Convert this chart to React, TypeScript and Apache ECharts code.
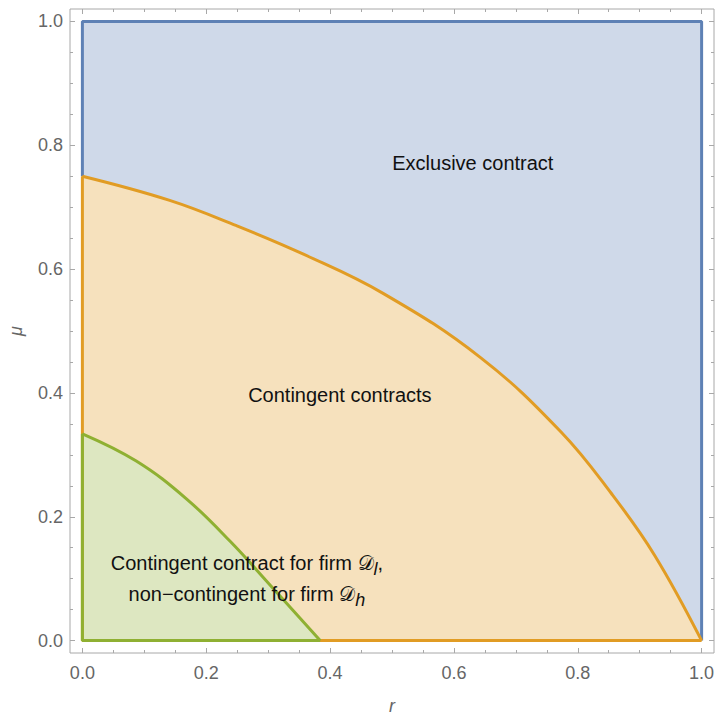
import React, { useEffect, useRef } from "react";
import * as echarts from "echarts";

// ---- data ----
const xMajorTicks = [0, 0.2, 0.4, 0.6, 0.8, 1.0];
const xMinorTicks = [0.05, 0.1, 0.15, 0.25, 0.3, 0.35, 0.45, 0.5, 0.55, 0.65, 0.7, 0.75, 0.85, 0.9, 0.95];
const yMajorTicks = [0, 0.2, 0.4, 0.6, 0.8, 1.0];
const yMinorTicks = [0.05, 0.1, 0.15, 0.25, 0.3, 0.35, 0.45, 0.5, 0.55, 0.65, 0.7, 0.75, 0.85, 0.9, 0.95];

// Exclusive contract region (whole unit square) and its visible boundary
const exclusiveTopR = [0, 1];
const exclusiveTopMu = [1, 1];
const exclusiveEdgeR = [0, 0, 1, 1];
const exclusiveEdgeMu = [0.75, 1, 1, 0];

// Contingent contracts region: upper boundary curve
const contingentR = [0, 0.141, 0.249, 0.357, 0.487, 0.643, 0.773, 0.854, 0.924, 1];
const contingentMu = [0.75, 0.711, 0.67, 0.624, 0.56, 0.457, 0.337, 0.238, 0.138, 0];
const contingentEdgeR = [0, 0, 1];
const contingentEdgeMu = [0.75, 0, 0];

// Mixed region: upper boundary curve
const mixedR = [0, 0.087, 0.168, 0.239, 0.303, 0.384];
const mixedMu = [0.334, 0.29, 0.229, 0.16, 0.09, 0];
const mixedEdgeR = [0, 0, 0.384];
const mixedEdgeMu = [0.334, 0, 0];

// Region labels
const labelR = [0.6305, 0.4158, 0.2657];
const labelMu = [0.7706, 0.397, 0.101];
const labelTexts = [
  "{t|Exclusive contract}",
  "{t|Contingent contracts}",
  "{t|Contingent contract for firm }{d|𝒟}{s|l}{t|,}\n{t|non−contingent for firm }{d|𝒟}{s|h}",
];

const zip = (a: number[], b: number[]) => a.map((v, i) => [v, b[i]]);

const FONT = "Liberation Sans";
const FRAME = "#a8a8a8";
const TICKLABEL = "#666666";

const BLUE = "#5E81B5";
const ORANGE = "#E19C24";
const GREEN = "#8FB032";
const BLUE_FILL = "#CFD9E9";
const ORANGE_FILL = "#F6E1BD";
const GREEN_FILL = "#DDE7C1";

const RICH: any = {
  t: { fontFamily: FONT, fontSize: 20, color: "#111111", lineHeight: 31 },
  d: { fontFamily: "DejaVu Sans", fontSize: 20, color: "#111111", lineHeight: 31 },
  s: {
    fontFamily: FONT,
    fontSize: 18,
    fontStyle: "italic",
    color: "#111111",
    lineHeight: 28,
    verticalAlign: "bottom",
  },
};

function makeAxis(
  position: string,
  values: number[],
  len: number,
  showLabel: boolean,
  isX: boolean,
  name?: string
): any {
  return {
    type: "value",
    min: -0.02,
    max: 1.02,
    position,
    name: name || "",
    nameLocation: "middle",
    nameGap: isX ? 44 : 45,
    nameMoveOverlap: false,
    nameTextStyle: {
      fontFamily: FONT,
      fontStyle: "italic",
      fontSize: 18,
      color: TICKLABEL,
    },
    axisLine: { show: false, onZero: false },
    splitLine: { show: false },
    axisTick: {
      show: true,
      inside: true,
      length: len,
      customValues: values,
      lineStyle: { color: FRAME, width: 1 },
    },
    axisLabel: {
      show: showLabel,
      customValues: values,
      formatter: (v: number) => v.toFixed(1),
      fontFamily: FONT,
      fontSize: 18,
      color: TICKLABEL,
      margin: isX ? 11 : 7,
    },
  };
}

export default function App() {
  const ref = useRef<HTMLDivElement>(null);

  useEffect(() => {
    if (!ref.current) return;
    const chart = echarts.init(ref.current, undefined, { renderer: "svg" });

    const lineBase = { type: "line", symbol: "none", silent: true };

    const option: any = {
      animation: false,
      backgroundColor: "#ffffff",
      grid: {
        left: 70,
        right: 3,
        top: 9,
        bottom: 62,
        show: true,
        borderColor: FRAME,
        borderWidth: 1,
        backgroundColor: "transparent",
        containLabel: false,
        outerBoundsMode: "none",
      },
      xAxis: [
        makeAxis("bottom", xMajorTicks, 5, true, true, "r"),
        makeAxis("bottom", xMinorTicks, 3, false, true),
        makeAxis("top", xMajorTicks, 5, false, true),
        makeAxis("top", xMinorTicks, 3, false, true),
      ],
      yAxis: [
        makeAxis("left", yMajorTicks, 5, true, false, "μ"),
        makeAxis("left", yMinorTicks, 3, false, false),
        makeAxis("right", yMajorTicks, 5, false, false),
        makeAxis("right", yMinorTicks, 3, false, false),
      ],
      series: [
        {
          ...lineBase,
          name: "exclusiveFill",
          data: zip(exclusiveTopR, exclusiveTopMu),
          lineStyle: { width: 0, opacity: 0 },
          areaStyle: { color: BLUE_FILL, opacity: 1 },
        },
        {
          ...lineBase,
          name: "exclusiveEdge",
          data: zip(exclusiveEdgeR, exclusiveEdgeMu),
          lineStyle: { color: BLUE, width: 3 },
        },
        {
          ...lineBase,
          name: "contingent",
          smooth: 0.4,
          data: zip(contingentR, contingentMu),
          lineStyle: { color: ORANGE, width: 3 },
          areaStyle: { color: ORANGE_FILL, opacity: 1 },
        },
        {
          ...lineBase,
          name: "contingentEdge",
          data: zip(contingentEdgeR, contingentEdgeMu),
          lineStyle: { color: ORANGE, width: 3 },
        },
        {
          ...lineBase,
          name: "mixed",
          smooth: 0.4,
          data: zip(mixedR, mixedMu),
          lineStyle: { color: GREEN, width: 3 },
          areaStyle: { color: GREEN_FILL, opacity: 1 },
        },
        {
          ...lineBase,
          name: "mixedEdge",
          data: zip(mixedEdgeR, mixedEdgeMu),
          lineStyle: { color: GREEN, width: 3 },
        },
        {
          type: "custom",
          name: "labels",
          silent: true,
          z: 20,
          clip: false,
          data: labelR.map((r, i) => [r, labelMu[i], i]),
          renderItem: (params: any, api: any) => {
            const p = api.coord([api.value(0), api.value(1)]);
            const idx = params.dataIndex;
            return {
              type: "text",
              x: p[0],
              y: p[1],
              z2: 100,
              style: {
                text: labelTexts[idx],
                fontFamily: FONT,
                fontSize: 20,
                fill: "#111111",
                align: "center",
                verticalAlign: "middle",
                rich: RICH,
              },
            };
          },
        },
      ],
    };

    chart.setOption(option);
    return () => chart.dispose();
  }, []);

  return (
    <div
      ref={ref}
      style={{ position: "absolute", left: 0, top: 0, width: 717, height: 715 }}
    />
  );
}
